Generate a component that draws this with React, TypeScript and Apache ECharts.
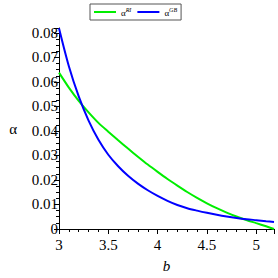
import React, { useEffect, useRef } from "react";
import * as echarts from "echarts";

const bValues = [3.0, 3.1, 3.2, 3.3, 3.4, 3.5, 3.6, 3.7, 3.8, 3.9, 4.0, 4.1, 4.2, 4.3, 4.4, 4.5, 4.6, 4.7, 4.8, 4.9, 5.0, 5.1, 5.18];
const alphaRI = [0.0638, 0.0577, 0.0523, 0.0476, 0.0433, 0.0397, 0.0362, 0.0328, 0.0295, 0.0263, 0.0233, 0.0204, 0.0177, 0.0151, 0.0127, 0.0105, 0.0085, 0.0067, 0.0051, 0.0037, 0.0024, 0.0011, 0.0];
const alphaGB = [0.0819, 0.0664, 0.0541, 0.0442, 0.0364, 0.0303, 0.0256, 0.0217, 0.0185, 0.0158, 0.0135, 0.0115, 0.0098, 0.0085, 0.0075, 0.0066, 0.0058, 0.0051, 0.0045, 0.004, 0.0036, 0.0032, 0.0029];
const seriesNames = ["RI", "GB"];
const seriesColors = ["#00ee00", "#0000ff"];

export default function App() {
  const ref = useRef<HTMLDivElement>(null);
  useEffect(() => {
    if (!ref.current) return;
    const chart = echarts.init(ref.current, null, { renderer: "svg" });
    const font = "Liberation Serif";
    const axisLine = { show: true, onZero: false, lineStyle: { color: "#000", width: 1 } };
    const axisTick = { show: true, inside: false, length: 5, lineStyle: { color: "#000" } };
    const minorTickStyle = { show: true, length: 3, lineStyle: { color: "#000" } };
    chart.setOption({
      animation: false,
      backgroundColor: "#fff",
      textStyle: { fontFamily: font },
      grid: { left: 59, right: 4, top: 28, bottom: 43, containLabel: false },
      legend: {
        top: 4,
        left: 90,
        padding: [3, 4, 3, 4],
        itemGap: 6,
        borderColor: "#555",
        borderWidth: 1,
        icon: "rect",
        itemWidth: 22,
        itemHeight: 2,
        data: seriesNames,
        formatter: (name: string) => `{a|α}{s|${name}}`,
        textStyle: {
          fontFamily: font,
          rich: {
            a: { fontSize: 9, fontFamily: font, color: "#000", verticalAlign: "bottom" },
            s: { fontSize: 6, fontFamily: font, fontStyle: "italic", color: "#000", verticalAlign: "top", padding: [0, 0, 4, 0] },
          },
        },
      },
      xAxis: {
        type: "value",
        min: 3,
        max: 5.18,
        interval: 0.5,
        minorTick: { ...minorTickStyle, splitNumber: 5 },
        axisLine,
        axisTick,
        splitLine: { show: false },
        axisLabel: { color: "#000", fontFamily: font, fontSize: 15, margin: 8, showMaxLabel: false, formatter: (v: number) => String(v) },
        name: "b",
        nameLocation: "middle",
        nameGap: 29,
        nameTextStyle: { fontFamily: font, fontSize: 15, fontStyle: "italic", color: "#000" },
      },
      yAxis: {
        type: "value",
        min: 0,
        max: 0.082,
        interval: 0.01,
        minorTick: { ...minorTickStyle, splitNumber: 4 },
        axisLine,
        axisTick,
        splitLine: { show: false },
        axisLabel: { color: "#000", fontFamily: font, fontSize: 15, margin: 1, showMaxLabel: false, formatter: (v: number) => String(Number(v.toFixed(2))) },
        name: "α",
        nameLocation: "middle",
        nameRotate: 0,
        nameGap: 42,
        nameTextStyle: { fontFamily: font, fontSize: 15, color: "#000", padding: [12, 0, 0, 0] },
      },
      series: [
        {
          name: seriesNames[0],
          type: "line",
          smooth: 0.3,
          symbol: "none",
          data: bValues.map((b, i) => [b, alphaRI[i]]),
          lineStyle: { color: seriesColors[0], width: 2 },
          itemStyle: { color: seriesColors[0] },
        },
        {
          name: seriesNames[1],
          type: "line",
          smooth: 0.3,
          symbol: "none",
          data: bValues.map((b, i) => [b, alphaGB[i]]),
          lineStyle: { color: seriesColors[1], width: 2 },
          itemStyle: { color: seriesColors[1] },
        },
      ],
    });
    return () => chart.dispose();
  }, []);
  return <div ref={ref} style={{ width: 278, height: 278, position: "absolute", left: 0, top: 0 }} />;
}
